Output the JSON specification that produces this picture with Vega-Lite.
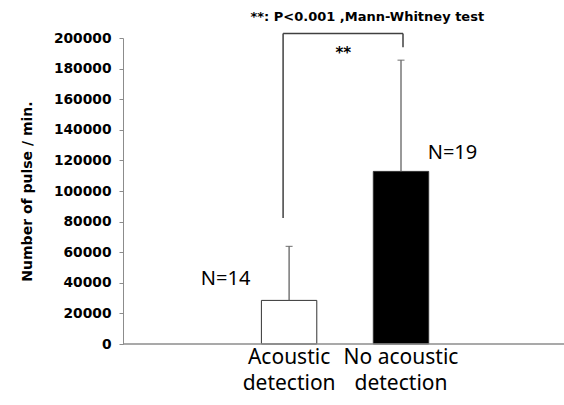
{
  "$schema": "https://vega.github.io/schema/vega-lite/v6.json",
  "width": 441,
  "height": 306,
  "autosize": {"type": "none"},
  "padding": {"left": 123, "top": 38, "right": 0, "bottom": 61},
  "background": "white",
  "config": {"view": {"stroke": null}},
  "datasets": {
    "bars": [
      {"group": "Acoustic detection", "mean": 28500, "upper": 63800, "n": "N=14", "nY": 42700, "fill": "white"},
      {"group": "No acoustic detection", "mean": 112800, "upper": 185500, "n": "N=19", "nY": 124800, "fill": "black"}
    ],
    "bracket": [
      {"from": "Acoustic detection", "to": "No acoustic detection", "yLeft": 82400, "yTop": 203000, "yRight": 194000, "stars": "**", "starsY": 190000, "note": "**: P<0.001 ,Mann-Whitney test", "noteY": 214000}
    ],
    "baseline": [{"y": 0}]
  },
  "encoding": {
    "y": {
      "type": "quantitative",
      "scale": {"domain": [0, 200000], "nice": false, "zero": true},
      "axis": {
        "title": "Number of pulse / min.",
        "values": [0, 20000, 40000, 60000, 80000, 100000, 120000, 140000, 160000, 180000, 200000],
        "format": "d",
        "grid": false,
        "domainColor": "#8c8c8c",
        "tickColor": "#8c8c8c",
        "tickSize": 4,
        "labelFont": "DejaVu Sans",
        "labelFontSize": 13.8,
        "labelFontWeight": "bold",
        "labelColor": "black",
        "labelPadding": 8,
        "titleFont": "DejaVu Sans",
        "titleFontSize": 14,
        "titleFontWeight": "bold",
        "titleColor": "black",
        "titlePadding": 19
      }
    }
  },
  "layer": [
    {
      "data": {"name": "bars"},
      "mark": {"type": "bar", "stroke": "#333333", "strokeWidth": 1},
      "encoding": {
        "x": {
          "field": "group",
          "type": "nominal",
          "sort": ["Acoustic detection", "No acoustic detection"],
          "scale": {"paddingInner": 0.505, "paddingOuter": 0, "range": [138.4, 305.7]},
          "axis": {
            "title": null,
            "labelAngle": 0,
            "ticks": false,
            "domain": false,
            "labelFont": "Noto Sans",
            "labelFontSize": 21,
            "labelColor": "black",
            "labelPadding": 2,
            "labelLineHeight": 26,
            "labelExpr": "datum.value == 'Acoustic detection' ? ['Acoustic', 'detection'] : ['No acoustic', 'detection']"
          }
        },
        "y": {"field": "mean"},
        "fill": {"field": "fill", "type": "nominal", "scale": null}
      }
    },
    {
      "data": {"name": "baseline"},
      "mark": {"type": "rule", "color": "#8c8c8c", "strokeWidth": 1.5},
      "encoding": {
        "y": {"field": "y"}
      }
    },
    {
      "data": {"name": "bars"},
      "mark": {"type": "rule", "color": "#555555", "strokeWidth": 1.2},
      "encoding": {
        "x": {"field": "group", "type": "nominal", "sort": ["Acoustic detection", "No acoustic detection"]},
        "y": {"field": "mean"},
        "y2": {"field": "upper"}
      }
    },
    {
      "data": {"name": "bars"},
      "mark": {"type": "tick", "color": "#555555", "size": 7, "thickness": 1.2, "orient": "horizontal"},
      "encoding": {
        "x": {"field": "group", "type": "nominal", "sort": ["Acoustic detection", "No acoustic detection"]},
        "y": {"field": "upper"}
      }
    },
    {
      "data": {"name": "bars"},
      "transform": [{"filter": "datum.group == 'Acoustic detection'"}],
      "mark": {"type": "text", "font": "Noto Sans", "fontSize": 20, "align": "right", "baseline": "middle", "dx": -11, "color": "black"},
      "encoding": {
        "x": {"field": "group", "type": "nominal", "sort": ["Acoustic detection", "No acoustic detection"], "bandPosition": 0},
        "y": {"field": "nY"},
        "text": {"field": "n"}
      }
    },
    {
      "data": {"name": "bars"},
      "transform": [{"filter": "datum.group == 'No acoustic detection'"}],
      "mark": {"type": "text", "font": "Noto Sans", "fontSize": 20, "align": "left", "baseline": "middle", "dx": -1, "color": "black"},
      "encoding": {
        "x": {"field": "group", "type": "nominal", "sort": ["Acoustic detection", "No acoustic detection"], "bandPosition": 1},
        "y": {"field": "nY"},
        "text": {"field": "n"}
      }
    },
    {
      "data": {"name": "bracket"},
      "mark": {"type": "rule", "color": "#404040", "strokeWidth": 1.5, "xOffset": -6},
      "encoding": {
        "x": {"field": "from", "type": "nominal", "sort": ["Acoustic detection", "No acoustic detection"]},
        "y": {"field": "yLeft"},
        "y2": {"field": "yTop"}
      }
    },
    {
      "data": {"name": "bracket"},
      "mark": {"type": "rule", "color": "#404040", "strokeWidth": 1.5, "xOffset": -6, "x2Offset": 2},
      "encoding": {
        "x": {"field": "from", "type": "nominal", "sort": ["Acoustic detection", "No acoustic detection"]},
        "x2": {"field": "to"},
        "y": {"field": "yTop"}
      }
    },
    {
      "data": {"name": "bracket"},
      "mark": {"type": "rule", "color": "#404040", "strokeWidth": 1.5, "xOffset": 2},
      "encoding": {
        "x": {"field": "to", "type": "nominal", "sort": ["Acoustic detection", "No acoustic detection"]},
        "y": {"field": "yRight"},
        "y2": {"field": "yTop"}
      }
    },
    {
      "data": {"name": "bracket"},
      "mark": {"type": "text", "font": "DejaVu Sans", "fontSize": 15, "fontWeight": "bold", "align": "center", "baseline": "middle", "dx": -30, "color": "black"},
      "encoding": {
        "x": {"field": "to", "type": "nominal", "sort": ["Acoustic detection", "No acoustic detection"], "bandPosition": 0},
        "y": {"field": "starsY"},
        "text": {"field": "stars"}
      }
    },
    {
      "data": {"name": "bracket"},
      "mark": {"type": "text", "font": "DejaVu Sans", "fontSize": 13, "fontWeight": "bold", "align": "center", "baseline": "middle", "dx": -6, "color": "black"},
      "encoding": {
        "x": {"field": "to", "type": "nominal", "sort": ["Acoustic detection", "No acoustic detection"], "bandPosition": 0},
        "y": {"field": "noteY"},
        "text": {"field": "note"}
      }
    }
  ]
}
